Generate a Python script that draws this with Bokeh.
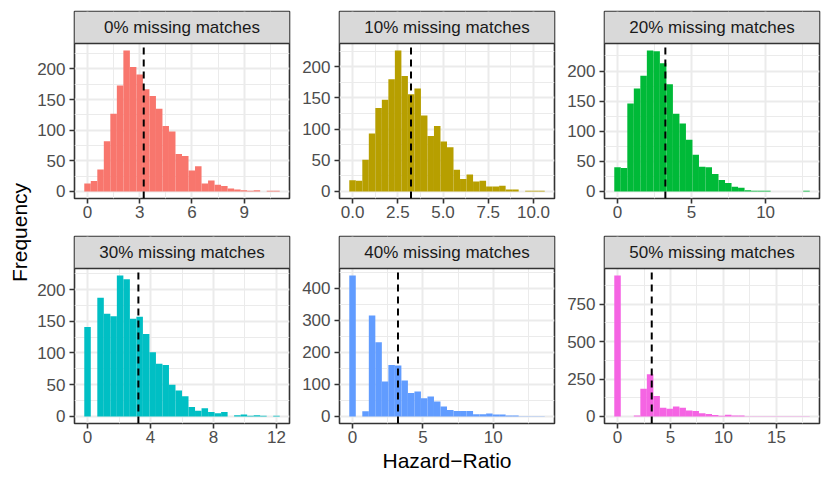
import numpy as np
from bokeh.plotting import figure
from bokeh.layouts import row, column
from bokeh.models import Range1d, FixedTicker
from bokeh.core.properties import value
from bokeh.embed import file_html
from bokeh.resources import INLINE

# ---------------- data ----------------
panel_titles = ["0% missing matches", "10% missing matches", "20% missing matches",
                "30% missing matches", "40% missing matches", "50% missing matches"]
fill_colors = ["#F8766D", "#B79F00", "#00BA38", "#00BFC4", "#619CFF", "#F564E3"]

# range of the Hazard-Ratio estimates in each panel (30 bins, ggplot style)
hr_min = [0.0, 0.0, 0.0, 0.0, 0.0, 0.0]
hr_max = [10.86, 10.44, 12.76, 12.0, 13.43, 17.84]

counts_0 = [13, 17, 36, 82, 127, 173, 230, 203, 191, 167, 156, 135, 107, 98, 61,
            58, 34, 41, 13, 18, 11, 9, 5, 3, 2, 1, 2, 0, 1, 1]
counts_10 = [18, 17, 51, 93, 134, 147, 180, 226, 185, 156, 165, 122, 89, 105, 80,
             71, 35, 20, 27, 16, 17, 8, 8, 9, 3, 3, 0, 1, 1, 1]
counts_20 = [40, 39, 146, 171, 192, 234, 233, 213, 178, 129, 113, 86, 61, 41, 40,
             29, 19, 14, 8, 6, 2, 1, 1, 1, 0, 0, 0, 0, 0, 1]
counts_30 = [141, 0, 187, 162, 158, 222, 216, 154, 157, 130, 101, 83, 81, 50, 41,
             32, 15, 9, 13, 7, 5, 7, 0, 2, 3, 1, 2, 1, 0, 1]
counts_40 = [440, 0, 16, 315, 232, 109, 161, 159, 112, 73, 78, 57, 62, 47, 31,
             20, 17, 17, 17, 7, 7, 9, 6, 6, 3, 3, 1, 1, 1, 1]
counts_50 = [942, 0, 0, 7, 186, 282, 137, 58, 51, 67, 58, 40, 36, 22, 16,
             9, 4, 11, 7, 7, 2, 2, 1, 1, 1, 1, 1, 1, 1, 1]
all_counts = [counts_0, counts_10, counts_20, counts_30, counts_40, counts_50]

true_hr = 3.23

x_ticks = [[0, 3, 6, 9], [0, 2.5, 5, 7.5, 10], [0, 5, 10], [0, 4, 8, 12], [0, 5, 10], [0, 5, 10, 15]]
x_tick_labels = [["0", "3", "6", "9"], ["0.0", "2.5", "5.0", "7.5", "10.0"], ["0", "5", "10"],
                 ["0", "4", "8", "12"], ["0", "5", "10"], ["0", "5", "10", "15"]]
y_ticks = [[0, 50, 100, 150, 200], [0, 50, 100, 150, 200], [0, 50, 100, 150, 200],
           [0, 50, 100, 150, 200], [0, 100, 200, 300, 400], [0, 250, 500, 750]]
y_tick_labels = [[str(t) for t in ts] for ts in y_ticks]

x_title = "Hazard\u2212Ratio"
y_title = "Frequency"

# ---------------- style / layout ----------------
FONT = "Liberation Sans"
PANEL_W = 215
PANEL_H = 155
STRIP = 32
BORDER = "#333333"
GRID = "#EBEBEB"


def minors(ticks):
    step = ticks[1] - ticks[0]
    return list(np.arange(ticks[0] - step / 2, ticks[-1] + step, step))


def make_panel(i, bl, br, bt, bb):
    counts = np.array(all_counts[i], dtype=float)
    n = len(counts)
    w = (hr_max[i] - hr_min[i]) / (n - 1)
    centers = hr_min[i] + w * np.arange(n)
    left = centers - w / 2
    right = centers + w / 2
    xlo, xhi = left[0], right[-1]
    pad = 0.05 * (xhi - xlo)
    x0, x1 = xlo - pad, xhi + pad
    ymax = counts.max()
    y0, y1 = -0.05 * ymax, 1.05 * ymax
    ytop = y1 + (y1 - y0) * STRIP / PANEL_H

    p = figure(frame_width=PANEL_W, frame_height=PANEL_H + STRIP,
               x_range=Range1d(x0, x1), y_range=Range1d(y0, ytop),
               output_backend="svg", toolbar_location=None, title=None,
               min_border_left=bl, min_border_right=br,
               min_border_top=bt, min_border_bottom=bb)
    p.background_fill_color = "white"
    p.border_fill_color = "white"
    p.outline_line_color = BORDER
    p.outline_line_width = 1.6

    xt = FixedTicker(ticks=x_ticks[i], minor_ticks=minors(x_ticks[i]))
    yt = FixedTicker(ticks=y_ticks[i], minor_ticks=minors(y_ticks[i]))
    p.xaxis.ticker = xt
    p.yaxis.ticker = yt
    p.xgrid.ticker = xt
    p.ygrid.ticker = yt
    p.xaxis.major_label_overrides = {t: l for t, l in zip(x_ticks[i], x_tick_labels[i])}
    p.yaxis.major_label_overrides = {t: l for t, l in zip(y_ticks[i], y_tick_labels[i])}

    for g in (p.xgrid, p.ygrid):
        g.grid_line_color = GRID
        g.grid_line_width = 2
        g.minor_grid_line_color = GRID
        g.minor_grid_line_width = 1

    for ax in (p.xaxis, p.yaxis):
        ax.axis_line_color = None
        ax.major_tick_line_color = BORDER
        ax.major_tick_line_width = 1.6
        ax.major_tick_out = 5
        ax.major_tick_in = 0
        ax.minor_tick_line_color = None
        ax.major_label_text_font = FONT
        ax.major_label_text_font_size = "17px"
        ax.major_label_text_color = "#4D4D4D"
    p.xaxis.major_label_standoff = 2
    p.yaxis.major_label_standoff = 4

    # histogram bars
    p.quad(left=left, right=right, top=counts, bottom=0,
           fill_color=fill_colors[i], line_color=None)
    # dashed reference line
    p.segment(x0=[true_hr], x1=[true_hr], y0=[y0], y1=[y1],
              line_color="black", line_width=2, line_dash="7 5")
    # facet strip
    p.quad(left=[x0], right=[x1], bottom=[y1], top=[ytop],
           fill_color="#D9D9D9", line_color=None)
    p.segment(x0=[x0], x1=[x1], y0=[y1], y1=[y1], line_color=BORDER, line_width=1.6)
    p.text(x=[(x0 + x1) / 2], y=[(y1 + ytop) / 2], text=[panel_titles[i]],
           text_font=value(FONT), text_font_size="17px", text_color="#1A1A1A",
           text_align="center", text_baseline="middle")
    return p


YLAB_W = 34
col_borders = [(40, 7), (43, 7), (43, 6)]
row_borders = [(11, 35), (3, 58)]

panels = []
for i in range(6):
    r, c = divmod(i, 3)
    bl, br = col_borders[c]
    bt, bb = row_borders[r]
    panels.append(make_panel(i, bl, br, bt, bb))

p5 = panels[4]
p5.xaxis.axis_label = x_title
p5.xaxis.axis_label_text_font = FONT
p5.xaxis.axis_label_text_font_size = "21px"
p5.xaxis.axis_label_text_font_style = "normal"
p5.xaxis.axis_label_text_color = "black"
p5.xaxis.axis_label_standoff = 3

total_h = sum(bt + PANEL_H + STRIP + bb for bt, bb in row_borders)

# y-axis title
ylab = figure(frame_width=YLAB_W, frame_height=total_h, x_range=Range1d(0, YLAB_W),
              y_range=Range1d(-total_h, 0), output_backend="svg", toolbar_location=None,
              title=None, x_axis_type=None, y_axis_type=None,
              min_border_left=0, min_border_right=0, min_border_top=0, min_border_bottom=0)
ylab.outline_line_color = None
ylab.grid.visible = False
ylab.text(x=[19], y=[-232], text=[y_title], angle=np.pi / 2,
          text_font=value(FONT), text_font_size="21px", text_color="black",
          text_align="center", text_baseline="middle")

layout = row(ylab, column(row(*panels[:3]), row(*panels[3:])))

open("out.html", "w").write(file_html(layout, INLINE))
